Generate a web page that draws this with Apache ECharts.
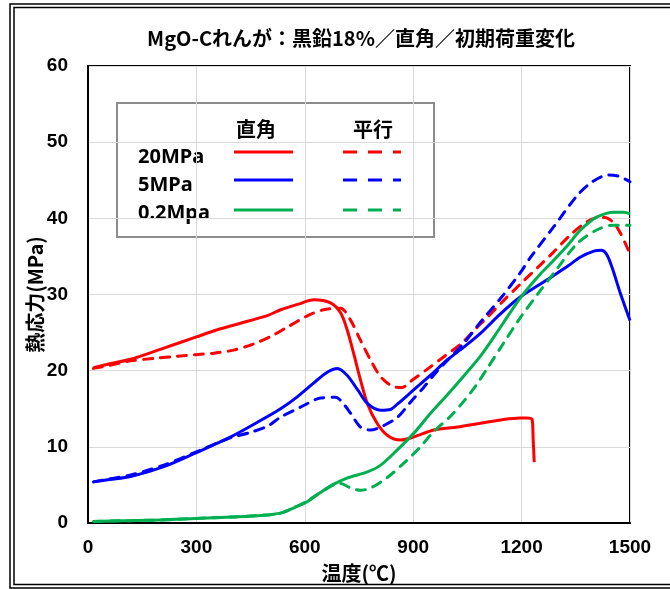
<!DOCTYPE html>
<html><head><meta charset="utf-8">
<script src="https://cdn.jsdelivr.net/npm/echarts@6/dist/echarts.min.js"></script>
<style>html,body{margin:0;padding:0;background:#fff}#c{width:670px;height:589px}</style>
</head><body><div id="c"></div>
<script>
const titleText = 'MgO-Cれんが：黒鉛18%／直角／初期荷重変化';
const xTicks = [0, 300, 600, 900, 1200, 1500];
const yTicks = [0, 10, 20, 30, 40, 50, 60];
const rowLabels = ['20MPa', '5MPa', '0.2Mpa'];
const colLabels = ['直角', '平行'];

const r20Solid = [[15,20.4],[60,20.9],[118,21.5],[200,22.8],[298,24.4],[367,25.5],[420,26.2],[500,27.3],[533,28.0],[580,28.7],[625,29.3],[671,28.9],[699,27.6],[717,25.4],[735,22.3],[754,18.8],[773,15.7],[800,13.1],[829,11.5],[865,10.9],[902,11.3],[957,12.2],[1022,12.6],[1086,13.1],[1150,13.6],[1195,13.8],[1215,13.8],[1229,13.6],[1232,11.0],[1235,8.0]];
const r20Dash = [[15,20.3],[60,20.7],[118,21.3],[183,21.6],[247,21.9],[298,22.1],[348,22.3],[403,22.7],[458,23.5],[510,24.6],[551,25.7],[607,27.2],[652,28.0],[699,28.2],[727,26.6],[754,24.0],[782,21.4],[810,19.2],[846,17.9],[870,17.8],[893,18.6],[942,20.3],[984,21.8],[1034,23.6],[1075,25.6],[1105,27.0],[1150,29.2],[1197,31.4],[1250,33.8],[1289,35.6],[1330,37.6],[1370,39.2],[1400,40.0],[1430,40.1],[1455,39.4],[1474,38.0],[1490,36.4],[1500,35.3]];
const b5Solid = [[15,5.4],[60,5.7],[118,6.1],[210,7.4],[298,9.2],[395,11.3],[468,13.2],[533,15.0],[580,16.6],[625,18.4],[662,19.8],[690,20.3],[717,19.4],[746,17.5],[773,15.7],[810,14.8],[837,14.9],[856,15.6],[902,17.5],[948,19.4],[994,21.4],[1040,23.1],[1086,24.9],[1140,27.4],[1197,29.7],[1250,31.3],[1289,32.5],[1330,33.8],[1362,34.9],[1400,35.7],[1420,35.8],[1435,35.3],[1450,33.6],[1473,30.2],[1500,26.6]];
const b5Dash = [[15,5.4],[60,5.8],[118,6.3],[210,7.6],[298,9.3],[395,11.2],[450,11.9],[500,12.8],[533,13.9],[588,15.2],[643,16.4],[685,16.5],[699,16.1],[727,14.4],[754,12.6],[782,12.2],[810,12.6],[857,13.9],[893,15.9],[929,17.8],[962,19.7],[1000,21.6],[1040,23.6],[1090,26.6],[1142,29.5],[1197,32.9],[1225,34.9],[1289,38.9],[1354,43.0],[1396,44.8],[1441,45.7],[1470,45.5],[1500,44.8]];
const g02Solid = [[15,0.2],[100,0.3],[200,0.4],[298,0.6],[400,0.8],[480,1.0],[533,1.3],[570,2.0],[607,2.8],[643,4.0],[680,5.1],[717,5.9],[773,6.7],[810,7.6],[856,9.6],[902,11.8],[948,14.4],[994,16.8],[1040,19.3],[1086,21.9],[1140,25.6],[1197,29.6],[1250,32.6],[1289,34.5],[1330,36.6],[1354,38.0],[1380,39.2],[1409,40.2],[1455,40.8],[1483,40.8],[1500,40.6]];
const g02Dash = [[15,0.2],[100,0.3],[200,0.4],[298,0.6],[400,0.8],[480,1.0],[533,1.3],[570,2.0],[607,2.9],[643,4.0],[680,5.0],[699,5.2],[727,4.6],[754,4.3],[782,4.6],[829,6.0],[875,7.9],[916,9.8],[957,12.0],[1003,14.0],[1042,16.1],[1073,18.0],[1105,20.3],[1150,23.6],[1197,27.0],[1250,30.4],[1289,32.8],[1354,36.7],[1409,38.5],[1455,39.1],[1500,39.1]];

const RED = '#FF0000', BLUE = '#0000FF', GREEN = '#00B050';
const numFont = "'Liberation Sans', 'Noto Sans CJK JP', sans-serif";
const jpFont = "'Noto Sans CJK JP', sans-serif";
const DASH = [9, 8];

function mk(name, data, color, dashed) {
  return {
    name: name, type: 'line', data: data, showSymbol: false, smooth: 0.3,
    animation: false,
    lineStyle: { color: color, width: 3, type: dashed ? DASH : 'solid', cap: dashed ? 'round' : 'butt', join: 'round' }
  };
}

const rowY = [152, 180, 210];
const rowTextY = [157, 185, 213];
const colors = [RED, BLUE, GREEN];
const legendEls = [
  { type: 'rect', shape: { x: 117, y: 103, width: 317, height: 134 },
    style: { fill: '#fff', stroke: '#8c8c8c', lineWidth: 2 } },
  { type: 'text', x: 256, y: 129, style: { text: colLabels[0], font: 'bold 20px ' + jpFont, fill: '#000', align: 'center', verticalAlign: 'middle' } },
  { type: 'text', x: 373, y: 129, style: { text: colLabels[1], font: 'bold 20px ' + jpFont, fill: '#000', align: 'center', verticalAlign: 'middle' } }
];
for (let i = 0; i < 3; i++) {
  legendEls.push({ type: 'text', x: 138, y: rowTextY[i], style: { text: rowLabels[i], font: "bold 20px 'Noto Sans', sans-serif", fill: '#000', align: 'left', verticalAlign: 'middle' } });
  legendEls.push({ type: 'line', shape: { x1: 234, y1: rowY[i], x2: 293, y2: rowY[i] }, style: { stroke: colors[i], lineWidth: 3 } });
  legendEls.push({ type: 'line', shape: { x1: 343, y1: rowY[i], x2: 401, y2: rowY[i] }, style: { stroke: colors[i], lineWidth: 3, lineDash: [14, 11] } });
}

const chart = echarts.init(document.getElementById('c'), null, { renderer: 'canvas' });
chart.setOption({
  animation: false,
  backgroundColor: '#fff',
  grid: { left: 88, right: 40, top: 66, bottom: 66, containLabel: false, outerBoundsMode: 'none',
          show: true, borderColor: '#000', borderWidth: 2, backgroundColor: 'transparent' },
  xAxis: {
    type: 'value', min: xTicks[0], max: xTicks[xTicks.length - 1], interval: 300,
    name: '温度(℃)', nameLocation: 'middle', nameGap: 40, nameMoveOverlap: false,
    nameTextStyle: { fontFamily: jpFont, fontWeight: 'bold', fontSize: 20, color: '#000' },
    axisLine: { show: true, lineStyle: { color: '#000', width: 2 } },
    axisTick: { show: false },
    axisLabel: { fontFamily: numFont, fontWeight: 'bold', fontSize: 19, color: '#000', margin: 15,
                 formatter: function (v) { return String(v); } },
    splitLine: { show: true, lineStyle: { color: '#d9d9d9', width: 1 } }
  },
  yAxis: {
    type: 'value', min: yTicks[0], max: yTicks[yTicks.length - 1], interval: 10,
    name: '熱応力(MPa)', nameLocation: 'middle', nameGap: 43, nameMoveOverlap: false,
    nameTextStyle: { fontFamily: jpFont, fontWeight: 'bold', fontSize: 20, color: '#000' },
    axisLine: { show: true, lineStyle: { color: '#000', width: 2 } },
    axisTick: { show: false },
    axisLabel: { fontFamily: numFont, fontWeight: 'bold', fontSize: 19, color: '#000', margin: 20,
                 formatter: function (v) { return String(v); } },
    splitLine: { show: true, lineStyle: { color: '#d9d9d9', width: 1 } }
  },
  series: [
    mk('20MPa 直角', r20Solid, RED, false),
    mk('20MPa 平行', r20Dash, RED, true),
    mk('5MPa 直角', b5Solid, BLUE, false),
    mk('5MPa 平行', b5Dash, BLUE, true),
    mk('0.2Mpa 直角', g02Solid, GREEN, false),
    mk('0.2Mpa 平行', g02Dash, GREEN, true)
  ],
  graphic: [
    { type: 'rect', z: 200, silent: true, shape: { x: 10, y: 4, width: 700, height: 584 }, style: { fill: 'none', stroke: '#000', lineWidth: 1.5 } },
    { type: 'rect', z: 200, silent: true, shape: { x: 14, y: 7.5, width: 700, height: 577 }, style: { fill: 'none', stroke: '#000', lineWidth: 1.5 } },
    { type: 'text', z: 200, x: 361, y: 38, style: { text: titleText, font: 'bold 20px ' + jpFont, fill: '#000', align: 'center', verticalAlign: 'middle' } },
    { type: 'group', z: 150, children: legendEls }
  ]
});
</script>
</body></html>
